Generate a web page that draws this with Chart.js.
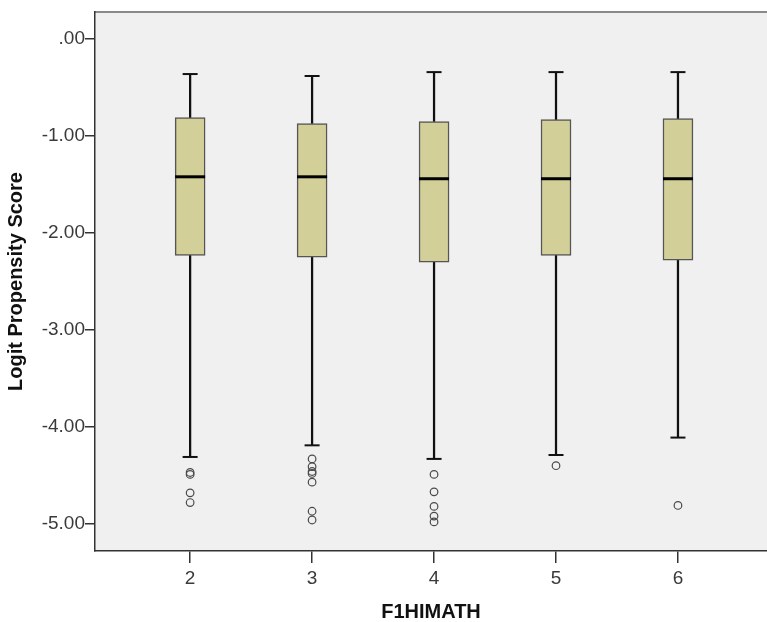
<!DOCTYPE html>
<html>
<head>
<meta charset="utf-8">
<script src="https://cdn.jsdelivr.net/npm/chart.js@4.4.1/dist/chart.umd.min.js"></script>
<style>
  html, body { margin: 0; padding: 0; background: #fff; }
  #wrap { width: 767px; height: 622px; position: relative; }
</style>
</head>
<body>
<div id="wrap"><canvas id="box-chart"></canvas></div>
<script>
// Valores (boxplot por categoria de F1HIMATH)
const categories = [2, 3, 4, 5, 6];
const upperWhisker = [-0.36, -0.38, -0.34, -0.34, -0.34];
const q3 = [-0.81, -0.87, -0.85, -0.83, -0.82];
const medians = [-1.42, -1.42, -1.44, -1.44, -1.44];
const q1 = [-2.23, -2.25, -2.30, -2.23, -2.28];
const lowerWhisker = [-4.31, -4.19, -4.33, -4.29, -4.11];
const outliers = [
  [-4.47, -4.49, -4.68, -4.78],
  [-4.33, -4.41, -4.46, -4.48, -4.57, -4.87, -4.96],
  [-4.49, -4.67, -4.82, -4.92, -4.98],
  [-4.40],
  [-4.81]
];
const yTicks = [0, -1, -2, -3, -4, -5];

const FONT = "'Liberation Sans', Arial, sans-serif";
const TEXT = '#3a3a3a';

// fundo cinza da área do gráfico + linha superior
const frame = {
  id: 'frame',
  beforeDraw(chart) {
    const { ctx, chartArea: a } = chart;
    ctx.save();
    ctx.fillStyle = '#f0f0f0';
    ctx.fillRect(a.left, a.top, a.right - a.left, a.bottom - a.top);
    ctx.strokeStyle = '#8a8a8a';
    ctx.lineWidth = 2;
    ctx.beginPath();
    ctx.moveTo(a.left, a.top);
    ctx.lineTo(a.right, a.top);
    ctx.stroke();
    ctx.restore();
  }
};

const boxData = categories.map((c, i) => ({ x: c, y: [q1[i], q3[i]] }));
const whiskerData = categories.flatMap((c, i) => [
  { x: c, y: [lowerWhisker[i], q1[i]] },
  { x: c, y: [q3[i], upperWhisker[i]] }
]);
const capData = categories.flatMap((c, i) => [
  { x: c, y: lowerWhisker[i] },
  { x: c, y: upperWhisker[i] }
]);
const medianData = categories.map((c, i) => ({ x: c, y: medians[i] }));
const outlierData = categories.flatMap((c, i) => outliers[i].map(v => ({ x: c, y: v })));

new Chart(document.getElementById('box-chart'), {
  type: 'bar',
  data: {
    datasets: [
      {
        type: 'scatter',
        data: medianData,
        pointStyle: 'line',
        radius: 15,
        borderWidth: 3,
        borderColor: '#000',
        order: 0
      },
      {
        type: 'scatter',
        data: outlierData,
        pointStyle: 'circle',
        radius: 3.8,
        borderWidth: 1.2,
        borderColor: '#4a4a4a',
        backgroundColor: 'rgba(0,0,0,0)',
        order: 0
      },
      {
        type: 'bar',
        data: boxData,
        grouped: false,
        barThickness: 30,
        backgroundColor: '#d3cf98',
        borderColor: '#555',
        borderWidth: 1.5,
        borderSkipped: false,
        order: 1
      },
      {
        type: 'bar',
        data: whiskerData,
        grouped: false,
        barThickness: 1.6,
        backgroundColor: '#111',
        borderWidth: 0,
        order: 2
      },
      {
        type: 'scatter',
        data: capData,
        pointStyle: 'line',
        radius: 7.5,
        borderWidth: 2,
        borderColor: '#111',
        order: 2
      }
    ]
  },
  options: {
    responsive: true,
    maintainAspectRatio: false,
    animation: false,
    layout: { autoPadding: false, padding: { top: 12, left: 0, right: 0, bottom: 0 } },
    plugins: { legend: { display: false }, tooltip: { enabled: false } },
    scales: {
      x: {
        type: 'linear',
        offset: false,
        min: 1.22,
        max: 6.73,
        afterBuildTicks: s => { s.ticks = categories.map(v => ({ value: v })); },
        afterFit: s => { s.height = 71; },
        grid: { offset: false, drawOnChartArea: false, drawTicks: true, tickLength: 12, color: '#333', lineWidth: 1.5 },
        border: { display: true, color: '#333', width: 1.5 },
        ticks: { color: TEXT, font: { family: FONT, size: 19 }, padding: 4 },
        title: {
          display: true,
          text: 'F1HIMATH',
          color: '#111',
          font: { family: FONT, size: 20, weight: 'bold', lineHeight: 1 },
          padding: { top: 0, bottom: 0 }
        }
      },
      y: {
        min: -5.28,
        max: 0.28,
        afterBuildTicks: s => { s.ticks = yTicks.map(v => ({ value: v })); },
        afterFit: s => { s.width = 95; },
        grid: { drawOnChartArea: false, drawTicks: true, tickLength: 10, color: '#333', lineWidth: 1.5 },
        border: { display: true, color: '#333', width: 1.5 },
        ticks: {
          color: TEXT,
          font: { family: FONT, size: 19 },
          padding: 0,
          callback: v => (v === 0 ? '.00' : v.toFixed(2))
        },
        title: {
          display: true,
          text: 'Logit Propensity Score',
          color: '#111',
          font: { family: FONT, size: 20, weight: 'bold', lineHeight: 1.2 },
          padding: { top: 4, bottom: 0 }
        }
      }
    }
  },
  plugins: [frame]
});
</script>
</body>
</html>
